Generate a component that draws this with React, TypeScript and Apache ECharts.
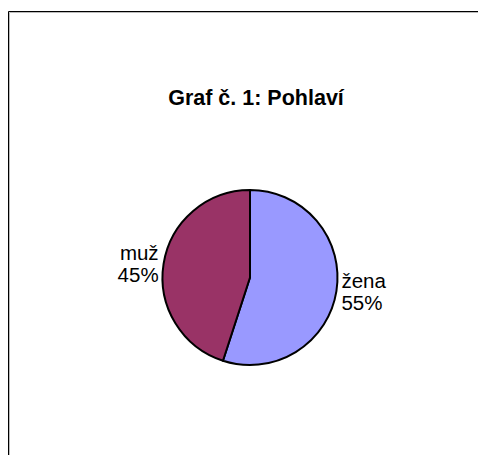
import React, { useEffect, useRef } from "react";
import * as echarts from "echarts";

const categories = ["žena", "muž"];
const values = [55, 45];
const colors = ["#9999FF", "#993366"];
const titleText = "Graf č. 1: Pohlaví";

export default function App() {
  const ref = useRef<HTMLDivElement>(null);
  useEffect(() => {
    if (!ref.current) return;
    const chart = echarts.init(ref.current, undefined, { renderer: "svg" });
    const font = "Arial, 'Liberation Sans', sans-serif";
    chart.setOption({
      animation: false,
      backgroundColor: "#ffffff",
      title: {
        text: titleText,
        left: 243,
        textAlign: "center",
        top: 74,
        textStyle: { fontFamily: font, fontSize: 21.5, fontWeight: "bold", color: "#000" },
      },
      graphic: [
        { type: "line", shape: { x1: 0.5, y1: 3.5, x2: 0.5, y2: 460 }, style: { stroke: "#000", lineWidth: 1 } },
        { type: "line", shape: { x1: 0.5, y1: 3.5, x2: 490, y2: 3.5 }, style: { stroke: "#000", lineWidth: 1 } },
        { type: "line", shape: { x1: 1.5, y1: 4.5, x2: 1.5, y2: 460 }, style: { stroke: "#bbbbbb", lineWidth: 1 } },
        { type: "line", shape: { x1: 1.5, y1: 4.5, x2: 490, y2: 4.5 }, style: { stroke: "#bbbbbb", lineWidth: 1 } },
      ],
      series: [
        {
          type: "pie",
          center: [242, 269.5],
          radius: 87.5,
          startAngle: 90,
          clockwise: true,
          data: categories.map((c, i) => ({
            name: c,
            value: values[i],
            itemStyle: { color: colors[i] },
          })),
          itemStyle: { borderColor: "#000", borderWidth: 2 },
          label: {
            show: true,
            position: "outside",
            formatter: (p: any) => `${p.name}\n${Math.round(p.percent)}%`,
            fontFamily: font,
            fontSize: 20.5,
            lineHeight: 22,
            color: "#000",
            distanceToLabelLine: 2,
          },
          labelLine: { show: false, length: 3, length2: 0 },
          emphasis: { disabled: true },
        },
      ],
    });
    return () => chart.dispose();
  }, []);
  return <div ref={ref} style={{ width: 478, height: 447 }} />;
}
